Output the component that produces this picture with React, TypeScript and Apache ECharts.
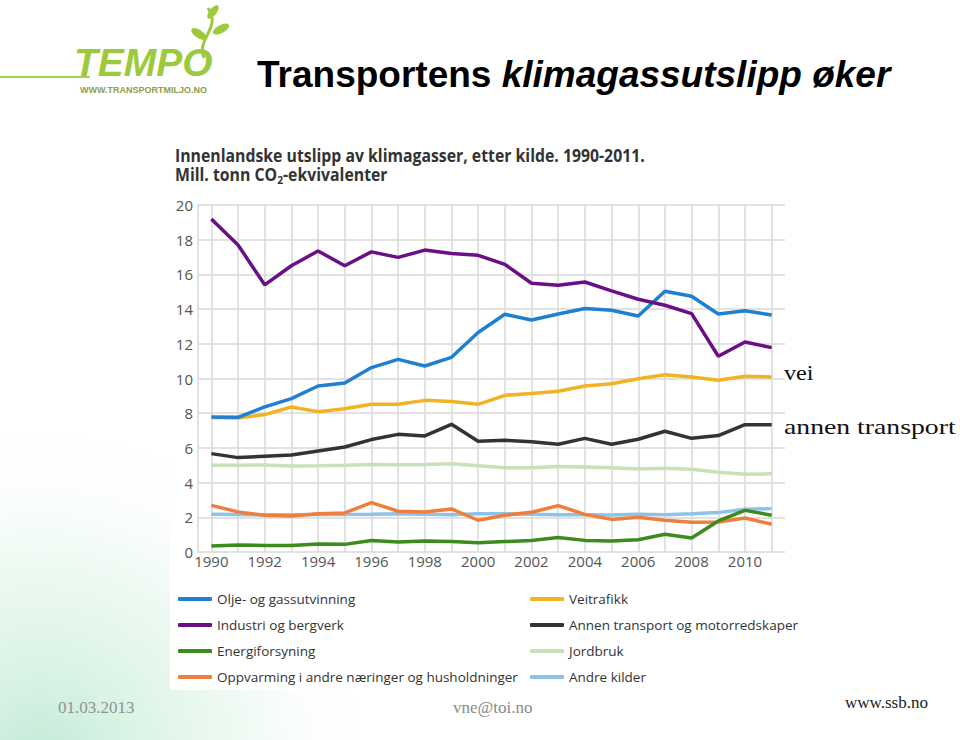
import React, { useEffect, useRef } from "react";
import * as echarts from "echarts";

const years = [1990, 1991, 1992, 1993, 1994, 1995, 1996, 1997, 1998, 1999, 2000, 2001, 2002, 2003, 2004, 2005, 2006, 2007, 2008, 2009, 2010, 2011];
const labelYears = [1990, 1992, 1994, 1996, 1998, 2000, 2002, 2004, 2006, 2008, 2010];

const oljeGass = [7.78, 7.76, 8.36, 8.84, 9.57, 9.74, 10.63, 11.1, 10.72, 11.22, 12.65, 13.7, 13.37, 13.72, 14.03, 13.93, 13.6, 15.03, 14.74, 13.72, 13.91, 13.66];
const industri = [19.2, 17.7, 15.4, 16.5, 17.35, 16.5, 17.3, 16.98, 17.4, 17.2, 17.1, 16.58, 15.49, 15.37, 15.56, 15.05, 14.57, 14.22, 13.74, 11.28, 12.1, 11.78];
const energi = [0.35, 0.4, 0.38, 0.38, 0.46, 0.44, 0.66, 0.58, 0.64, 0.6, 0.54, 0.6, 0.66, 0.83, 0.67, 0.64, 0.71, 1.02, 0.81, 1.79, 2.4, 2.12];
const oppvarming = [2.69, 2.31, 2.12, 2.08, 2.21, 2.25, 2.85, 2.35, 2.31, 2.48, 1.83, 2.12, 2.29, 2.67, 2.17, 1.88, 2.0, 1.83, 1.71, 1.73, 1.96, 1.6];
const veitrafikk = [7.75, 7.72, 7.92, 8.36, 8.09, 8.26, 8.51, 8.51, 8.74, 8.67, 8.51, 9.03, 9.13, 9.26, 9.57, 9.7, 9.99, 10.22, 10.09, 9.9, 10.13, 10.09];
const annenTransport = [5.67, 5.44, 5.52, 5.59, 5.82, 6.05, 6.48, 6.78, 6.69, 7.36, 6.38, 6.44, 6.36, 6.21, 6.55, 6.21, 6.5, 6.96, 6.55, 6.71, 7.34, 7.34];
const jordbruk = [5.0, 5.0, 5.02, 4.95, 4.97, 5.0, 5.05, 5.03, 5.05, 5.08, 4.97, 4.86, 4.86, 4.93, 4.9, 4.86, 4.79, 4.82, 4.77, 4.6, 4.48, 4.51];
const andreKilder = [2.17, 2.16, 2.15, 2.15, 2.16, 2.16, 2.17, 2.2, 2.17, 2.15, 2.2, 2.2, 2.18, 2.15, 2.15, 2.13, 2.17, 2.15, 2.2, 2.27, 2.46, 2.5];

const seriesDefs = [
  { name: "Jordbruk", data: jordbruk, color: "#c9e1b9" },
  { name: "Andre kilder", data: andreKilder, color: "#8dc2ea" },
  { name: "Oppvarming i andre næringer og husholdninger", data: oppvarming, color: "#ef7e3a" },
  { name: "Energiforsyning", data: energi, color: "#3b8b1d" },
  { name: "Annen transport og motorredskaper", data: annenTransport, color: "#333333" },
  { name: "Veitrafikk", data: veitrafikk, color: "#f0b323" },
  { name: "Olje- og gassutvinning", data: oljeGass, color: "#1f7fd0" },
  { name: "Industri og bergverk", data: industri, color: "#6b0f86" },
];

const legendLeft = ["Olje- og gassutvinning", "Industri og bergverk", "Energiforsyning", "Oppvarming i andre næringer og husholdninger"];
const legendRight = ["Veitrafikk", "Annen transport og motorredskaper", "Jordbruk", "Andre kilder"];

const SANS = "'Open Sans', 'Noto Sans', sans-serif";
const SERIF = "'Liberation Serif', 'DejaVu Serif', serif";

export default function App() {
  const ref = useRef<HTMLDivElement>(null);
  useEffect(() => {
    if (!ref.current) return;
    const chart = echarts.init(ref.current, undefined, { renderer: "svg" });
    const legendCommon = {
      orient: "vertical",
      top: 590,
      padding: 0,
      itemWidth: 34,
      itemHeight: 4,
      itemGap: 8,
      icon: "roundRect",
      selectedMode: false,
      textStyle: { fontFamily: SANS, fontSize: 13.5, color: "#333", lineHeight: 18, padding: [0, 0, 0, 0] },
    };
    chart.setOption({
      animation: false,
      backgroundColor: "#ffffff",
      grid: { left: 198, right: 175, top: 205, bottom: 188, containLabel: false },
      legend: [
        { ...legendCommon, left: 178, data: legendLeft },
        { ...legendCommon, left: 530, data: legendRight },
      ],
      xAxis: {
        type: "value",
        min: 1989.5,
        max: 2011.5,
        axisLine: { show: false },
        axisTick: { show: false, customValues: years },
        splitLine: { show: true, lineStyle: { color: "#d9d9d9", width: 1.5 } },
        axisLabel: {
          customValues: labelYears,
          formatter: (v: number) => String(v),
          fontFamily: SANS,
          fontSize: 15,
          color: "#555",
          margin: 1,
        },
      },
      yAxis: {
        type: "value",
        min: 0,
        max: 20,
        interval: 2,
        axisLine: { show: true, lineStyle: { color: "#d9d9d9", width: 1.5 } },
        axisTick: { show: false },
        splitLine: { show: true, lineStyle: { color: "#d9d9d9", width: 1.5 } },
        axisLabel: { fontFamily: SANS, fontSize: 15, color: "#555", margin: 5 },
      },
      graphic: [
        {
          type: "circle",
          z: -10,
          silent: true,
          shape: { cx: 40, cy: 760, r: 330 },
          style: {
            fill: new echarts.graphic.RadialGradient(0.5, 0.5, 0.5, [
              { offset: 0, color: "rgba(175,228,200,0.75)" },
              { offset: 0.6, color: "rgba(205,240,220,0.35)" },
              { offset: 1, color: "rgba(255,255,255,0)" },
            ]),
          },
        },
        {
          type: "rect",
          z: -9,
          silent: true,
          shape: { x: 170, y: 135, width: 620, height: 555 },
          style: { fill: "#ffffff" },
        },
        // logo
        {
          type: "line",
          shape: { x1: 0, y1: 77, x2: 90, y2: 77 },
          style: { stroke: "#a8d04e", lineWidth: 2 },
        },
        {
          type: "text",
          x: 74,
          y: 62,
          style: {
            text: "TEMPO",
            fontFamily: "'Liberation Sans', Arial, sans-serif",
            fontWeight: "bold",
            fontStyle: "italic",
            fontSize: 39,
            fill: "#9dc93c",
            verticalAlign: "middle",
          },
        },
        {
          type: "text",
          x: 80,
          y: 90,
          style: {
            text: "WWW.TRANSPORTMILJO.NO",
            fontFamily: "'Liberation Sans', Arial, sans-serif",
            fontWeight: "bold",
            fontSize: 9,
            fill: "#8aa04c",
            verticalAlign: "middle",
          },
        },
        {
          type: "bezierCurve",
          shape: { x1: 204, y1: 58, cpx1: 196, cpy1: 38, cpx2: 222, cpy2: 28, x2: 208, y2: 8 },
          style: { stroke: "#9dc93c", lineWidth: 3, fill: null },
        },
        {
          type: "ellipse",
          x: 199,
          y: 34,
          rotation: -0.6,
          shape: { cx: 0, cy: 0, rx: 9, ry: 4 },
          style: { fill: "#9dc93c" },
        },
        {
          type: "ellipse",
          x: 221,
          y: 29,
          rotation: 0.5,
          shape: { cx: 0, cy: 0, rx: 9, ry: 4 },
          style: { fill: "#9dc93c" },
        },
        {
          type: "ellipse",
          x: 213,
          y: 12,
          rotation: 0.9,
          shape: { cx: 0, cy: 0, rx: 8, ry: 3.5 },
          style: { fill: "#9dc93c" },
        },
        // main title
        {
          type: "text",
          x: 257,
          y: 74,
          style: {
            text: "{b|Transportens }{i|klimagassutslipp øker}",
            verticalAlign: "middle",
            rich: {
              b: { fontFamily: "'Liberation Sans', Arial, sans-serif", fontWeight: "bold", fontSize: 37, fill: "#000" },
              i: { fontFamily: "'Liberation Sans', Arial, sans-serif", fontWeight: "bold", fontStyle: "italic", fontSize: 37, fill: "#000" },
            },
          },
        },
        // chart titles
        {
          type: "text",
          x: 175,
          y: 155,
          scaleX: 0.93,
          style: {
            text: "Innenlandske utslipp av klimagasser, etter kilde. 1990-2011.",
            fontFamily: SANS,
            fontWeight: "bold",
            fontSize: 17,
            fill: "#333",
            verticalAlign: "middle",
          },
        },
        {
          type: "text",
          x: 175,
          y: 174,
          scaleX: 0.93,
          style: {
            text: "{a|Mill. tonn CO}{s|2}{a|-ekvivalenter}",
            verticalAlign: "middle",
            rich: {
              a: { fontFamily: SANS, fontWeight: "bold", fontSize: 17, fill: "#333", lineHeight: 22, verticalAlign: "middle" },
              s: { fontFamily: SANS, fontWeight: "bold", fontSize: 11, fill: "#333", lineHeight: 11, verticalAlign: "bottom", padding: [12, 0, 0, 0] },
            },
          },
        },
        // right annotations
        {
          type: "text",
          x: 784,
          y: 372,
          scaleX: 1.1,
          style: { text: "vei", fontFamily: SERIF, fontSize: 22, fill: "#111", verticalAlign: "middle" },
        },
        {
          type: "text",
          x: 784,
          y: 427,
          scaleX: 1.26,
          style: { text: "annen transport", fontFamily: SERIF, fontSize: 22, fill: "#111", verticalAlign: "middle" },
        },
        // footer
        {
          type: "text",
          x: 58,
          y: 707,
          style: { text: "01.03.2013", fontFamily: SERIF, fontSize: 17, fill: "#8a9590", verticalAlign: "middle" },
        },
        {
          type: "text",
          x: 453,
          y: 707,
          style: { text: "vne@toi.no", fontFamily: SERIF, fontSize: 17, fill: "#8a8a8a", verticalAlign: "middle" },
        },
        {
          type: "text",
          x: 845,
          y: 702,
          style: { text: "www.ssb.no", fontFamily: SERIF, fontSize: 17, fill: "#222", verticalAlign: "middle" },
        },
      ],
      series: seriesDefs.map((s) => ({
        name: s.name,
        type: "line",
        data: years.map((y, i) => [y, s.data[i]]),
        showSymbol: false,
        symbol: "none",
        lineStyle: { color: s.color, width: 3.5 },
        itemStyle: { color: s.color },
        color: s.color,
      })),
    });
    return () => chart.dispose();
  }, []);
  return <div ref={ref} style={{ position: "fixed", left: 0, top: 0, width: 960, height: 740 }} />;
}
